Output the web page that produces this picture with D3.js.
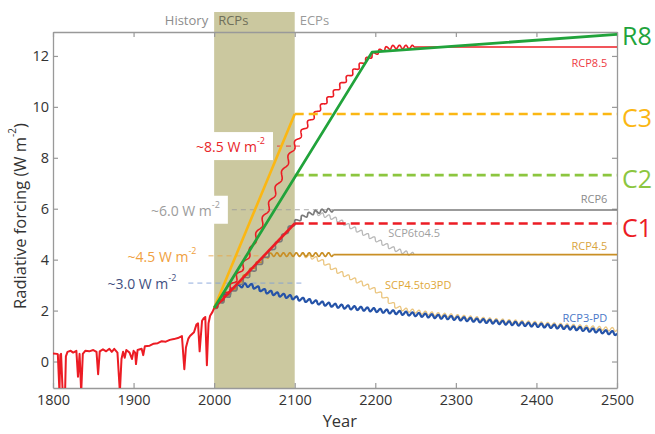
<!DOCTYPE html>
<html><head><meta charset="utf-8">
<script src="https://cdn.jsdelivr.net/npm/d3@7"></script>
<style>
body{margin:0;background:#fff}
svg{display:block}
text{font-family:"Open Sans","Noto Sans",sans-serif}
</style></head>
<body><svg id="c" width="655" height="434"></svg>
<script>
// ---------------- DATA ----------------
const xTicks = [1800, 1900, 2000, 2100, 2200, 2300, 2400, 2500];
const yTicks = [0, 2, 4, 6, 8, 10, 12];
const periodLabels = ["History", "RCPs", "ECPs"];
const periodBounds = [2000, 2100];

const histYears = [1800,1805,1806,1808,1809,1810,1812,1815,1816,1818,1822,1825,1829,1831,1833,1835,1837,1840,1845,1850,1854,1856,1858,1862,1866,1870,1873,1876,1880,1883,1885,1887,1889,1891,1895,1898,1900,1902,1903,1905,1910,1912,1914,1920,1925,1930,1935,1940,1945,1950,1955,1960,1963,1965,1968,1970,1975,1978,1980,1982,1985,1987,1989,1991,1993,1995,1998,2000];
const histValues = [0.32,0.3,0.28,-1.2,0.25,0.3,-1.2,-1.2,0.2,0.38,0.42,0.35,0.42,-0.6,0.3,-1.2,0.3,0.42,0.4,0.45,0.38,-0.5,0.4,0.48,0.4,0.5,0.38,0.5,0.35,-1.2,0.1,0.38,0.15,0.45,0.35,0.1,0.42,0.35,-0.1,0.45,0.5,0.25,0.6,0.62,0.7,0.72,0.8,0.78,0.85,0.88,0.92,1.0,-0.3,0.55,0.9,1.0,1.15,1.45,1.5,0.4,1.6,1.7,1.75,-0.15,1.5,1.8,1.95,2.1];

// wavy pathway series (RCP / SCP)
const rcp85Years  = [2000,2020,2040,2060,2080,2100,2125,2150,2175,2200,2225,2248,2500];
const rcp85Values = [2.1,2.9,4.0,5.5,7.0,8.5,9.7,10.6,11.45,12.1,12.35,12.35,12.35];
const rcp6Years   = [2000,2020,2040,2060,2080,2100,2124,2148,2500];
const rcp6Values  = [2.1,2.65,3.3,3.95,4.7,5.45,5.85,5.95,5.95];
const scp6to45Years  = [2124,2150,2175,2200,2225,2248];
const scp6to45Values = [5.85,5.6,5.2,4.8,4.4,4.2];
const rcp45Years  = [2000,2020,2040,2060,2072,2100,2148,2500];
const rcp45Values = [2.1,2.7,3.4,4.0,4.2,4.2,4.2,4.2];
const scp45to3Years  = [2108,2130,2150,2175,2200,2230,2250,2300,2350,2400,2450,2500];
const scp45to3Values = [4.18,4.0,3.6,3.2,2.8,2.1,1.97,1.78,1.62,1.5,1.38,1.25];
const rcp3Years  = [2000,2015,2030,2040,2065,2100,2150,2200,2250,2300,2350,2400,2450,2500];
const rcp3Values = [2.1,2.6,2.95,3.0,2.75,2.5,2.2,2.02,1.85,1.7,1.55,1.43,1.3,1.1];

// ECP-style scenario lines
const r8Years  = [2000,2196,2500];
const r8Values = [2.1,12.15,12.85];
const c3Years  = [2000,2100,2500];
const c3Values = [2.1,9.72,9.72];
const c2Years  = [2100,2500];
const c2Values = [7.32,7.32];
const c1Years  = [2000,2100,2500];
const c1Values = [2.1,5.42,5.42];

// annotation levels (~x W m-2)
const annotTexts  = ["~8.5 W m", "~6.0 W m", "~4.5 W m", "~3.0 W m"];
const annotLevels = [8.46, 5.96, 4.15, 3.08];
const annotFrom   = [2078, 2022, 1993, 1968];
const annotTo     = [2110, 2148, 2063, 2113];

// ---------------- LAYOUT / STYLE ----------------
const W = 655, H = 434;
const L = 53, R = 617, T = 32, B = 388;
const svg = d3.select("#c");
const x = d3.scaleLinear().domain([1800, 2500]).range([L, R]);
const y = d3.scaleLinear().domain([-1.04, 12.94]).range([B, T]);

const WAVE_AMP = 1.8, WAVE_PERIOD = 8;

svg.append("defs").append("clipPath").attr("id", "clip")
  .append("rect").attr("x", L).attr("y", T).attr("width", R - L).attr("height", B - T);

// shaded RCP period
svg.append("rect")
  .attr("x", x(periodBounds[0])).attr("y", 12)
  .attr("width", x(periodBounds[1]) - x(periodBounds[0])).attr("height", B - 12)
  .attr("fill", "#cbc89f");

// period labels
const plStyle = [
  {x: x(periodBounds[0]) - 6, anchor: "end", fill: "#8c8c8c"},
  {x: x(periodBounds[0]) + 4, anchor: "start", fill: "#6f6f5a"},
  {x: x(periodBounds[1]) + 5, anchor: "start", fill: "#9a9a9a"}
];
periodLabels.forEach((t, i) => {
  svg.append("text").attr("x", plStyle[i].x).attr("y", 25)
    .attr("text-anchor", plStyle[i].anchor).attr("font-size", 13)
    .attr("fill", plStyle[i].fill).text(t);
});

// annotation white boxes + labels + dashed lines
const annotColors = ["#e8262a", "#9c9c9c", "#f0a040", "#3f4f80"];
const annotLineColors = ["#e8262a", "#9c9c9c", "#e9a84a", "#7f9fd8"];
const annotG = svg.append("g");
annotTexts.forEach((t, i) => {
  const yy = y(annotLevels[i]);
  const xEnd = x(annotFrom[i]) - 12;
  const txt = annotG.append("text").attr("x", xEnd).attr("y", yy)
    .attr("text-anchor", "end").attr("dominant-baseline", "central")
    .attr("font-size", 14).attr("fill", annotColors[i]);
  txt.append("tspan").text(t);
  txt.append("tspan").attr("font-size", 9).attr("dy", -6).text("-2");
  const bb = txt.node().getBBox();
  annotG.insert("rect", "text").attr("x", bb.x - 8).attr("y", yy - 14)
    .attr("width", bb.width + 16).attr("height", 28).attr("fill", "#fff");
  svg.append("line").attr("x1", x(annotFrom[i])).attr("x2", x(annotTo[i]))
    .attr("y1", yy).attr("y2", yy)
    .attr("stroke", annotLineColors[i]).attr("stroke-width", 1).attr("stroke-dasharray", "5,4")
    .attr("opacity", 0.85);
});
annotG.raise();

// axes (inward ticks, frame)
const axisColor = "#999";
function styleAxis(g) {
  g.select(".domain").attr("stroke", axisColor).attr("stroke-width", 1.3);
  g.selectAll(".tick line").attr("stroke", axisColor).attr("stroke-width", 1.2);
  g.selectAll(".tick text").attr("fill", "#333").attr("font-size", 14.5)
    .attr("font-family", "'Open Sans','Noto Sans',sans-serif");
}
svg.append("g").attr("transform", `translate(0,${B})`)
  .call(d3.axisBottom(x).tickValues(xTicks).tickSizeInner(-5).tickSizeOuter(0).tickPadding(7).tickFormat(d3.format("d")))
  .call(styleAxis);
svg.append("g").attr("transform", `translate(0,${T})`)
  .call(d3.axisTop(x).tickValues(xTicks).tickSizeInner(-5).tickSizeOuter(0).tickFormat(""))
  .call(styleAxis);
svg.append("g").attr("transform", `translate(${L},0)`)
  .call(d3.axisLeft(y).tickValues(yTicks).tickSizeInner(-5).tickSizeOuter(0).tickPadding(4))
  .call(styleAxis);
svg.append("g").attr("transform", `translate(${R},0)`)
  .call(d3.axisRight(y).tickValues(yTicks).tickSizeInner(-5).tickSizeOuter(0).tickFormat(""))
  .call(styleAxis);

// axis titles
svg.append("text").attr("transform", `translate(19,${(T + B) / 2 + 6}) rotate(-90)`)
  .attr("text-anchor", "middle").attr("dominant-baseline", "central")
  .attr("font-size", 16.5).attr("fill", "#333")
  .call(t => { t.append("tspan").text("Radiative forcing (W m"); t.append("tspan").attr("font-size", 10).attr("dy", -7).text("-2"); t.append("tspan").attr("dy", 7).text(")"); });
svg.append("text").attr("x", x(2156)).attr("y", 427).attr("text-anchor", "middle")
  .attr("font-size", 16.5).attr("fill", "#333").text("Year");

// ---------------- LINES ----------------
const plot = svg.append("g").attr("clip-path", "url(#clip)");
const lineGen = (curve) => d3.line().x(d => x(d[0])).y(d => y(d[1])).curve(curve || d3.curveLinear);
const zip = (ys, vs) => ys.map((yr, i) => [yr, vs[i]]);

function wavyPath(pts) {
  const d = lineGen(d3.curveMonotoneX)(pts);
  const tmp = svg.append("path").attr("d", d).attr("fill", "none");
  const node = tmp.node();
  const len = node.getTotalLength();
  const step = 0.4;
  const samples = [];
  for (let s = 0; s <= len; s += step) { const p = node.getPointAtLength(s); samples.push([p.x, p.y]); }
  const last = node.getPointAtLength(len); samples.push([last.x, last.y]);
  tmp.remove();
  const out = samples.map((p, i) => {
    const a = samples[Math.max(0, i - 2)], b = samples[Math.min(samples.length - 1, i + 2)];
    let tx = b[0] - a[0], ty = b[1] - a[1];
    const n = Math.hypot(tx, ty) || 1; tx /= n; ty /= n;
    const off = WAVE_AMP * Math.sin(2 * Math.PI * x.invert(p[0]) / WAVE_PERIOD);
    return [p[0] - ty * off, p[1] + tx * off];
  });
  return d3.line()(out);
}

function drawPathway(ys, vs, style) {
  const pts = zip(ys, vs);
  const wav = pts.filter(d => d[0] <= style.wavyUntil);
  const flat = pts.filter(d => d[0] >= style.wavyUntil);
  plot.append("path").attr("d", wavyPath(wav)).attr("fill", "none")
    .attr("stroke", style.color).attr("stroke-width", style.width).attr("stroke-linejoin", "round");
  if (flat.length > 1) {
    plot.append("path").attr("d", lineGen()(flat)).attr("fill", "none")
      .attr("stroke", style.color).attr("stroke-width", style.width);
  }
}

drawPathway(scp45to3Years, scp45to3Values, {color: "#ebc680", width: 1.3, wavyUntil: 2500});
drawPathway(scp6to45Years, scp6to45Values, {color: "#b8b8b8", width: 1.3, wavyUntil: 2500});
drawPathway(rcp3Years, rcp3Values, {color: "#2553a8", width: 2.2, wavyUntil: 2500});
drawPathway(rcp45Years, rcp45Values, {color: "#c98f25", width: 1.7, wavyUntil: 2148});
drawPathway(rcp6Years, rcp6Values, {color: "#7a7a7a", width: 1.7, wavyUntil: 2148});
drawPathway(rcp85Years, rcp85Values, {color: "#ec1c24", width: 1.6, wavyUntil: 2248});

// history
plot.append("path").attr("d", lineGen()(zip(histYears, histValues))).attr("fill", "none")
  .attr("stroke", "#ec1c24").attr("stroke-width", 2).attr("stroke-linejoin", "round");

// scenario lines: solid ramp then dashed plateau
function drawScenario(ys, vs, style) {
  const pts = zip(ys, vs);
  const ramp = pts.filter(d => d[0] <= style.dashFrom);
  const plateau = pts.filter(d => d[0] >= style.dashFrom);
  if (ramp.length > 1) plot.append("path").attr("d", lineGen()(ramp)).attr("fill", "none")
    .attr("stroke", style.color).attr("stroke-width", style.width).attr("stroke-linejoin", "round");
  if (plateau.length > 1) plot.append("path").attr("d", lineGen()(plateau)).attr("fill", "none")
    .attr("stroke", style.color).attr("stroke-width", style.width)
    .attr("stroke-dasharray", style.dashed ? "9,5" : null);
}
drawScenario(c2Years, c2Values, {color: "#8cc63f", width: 2.6, dashFrom: 2100, dashed: true});
drawScenario(c1Years, c1Values, {color: "#ec1c24", width: 2.6, dashFrom: 2100, dashed: true});
drawScenario(c3Years, c3Values, {color: "#fbb713", width: 2.6, dashFrom: 2100, dashed: true});
drawScenario(r8Years, r8Values, {color: "#21a33b", width: 2.8, dashFrom: 2500, dashed: false});

// ---------------- LABELS ----------------
const seriesLabels = [
  {t: "RCP8.5", yr: 2488, v: 11.73, a: "end", c: "#ee3a44"},
  {t: "RCP6", yr: 2488, v: 6.42, a: "end", c: "#8a8a8a"},
  {t: "SCP6to4.5", yr: 2216, v: 5.08, a: "start", c: "#a0a0a0"},
  {t: "RCP4.5", yr: 2488, v: 4.57, a: "end", c: "#d9a440"},
  {t: "SCP4.5to3PD", yr: 2212, v: 3.04, a: "start", c: "#e0a83a"},
  {t: "RCP3-PD", yr: 2488, v: 1.74, a: "end", c: "#4a78c8"}
];
seriesLabels.forEach(s => {
  svg.append("text").attr("x", x(s.yr)).attr("y", y(s.v)).attr("text-anchor", s.a)
    .attr("dominant-baseline", "central").attr("font-size", 11).attr("fill", s.c).text(s.t);
});

const bigLabels = [
  {t: "R8", v: r8Values[r8Values.length - 1], c: "#21a33b", dy: 1},
  {t: "C3", v: c3Values[c3Values.length - 1], c: "#fbb713", dy: 3},
  {t: "C2", v: c2Values[c2Values.length - 1], c: "#8cc63f", dy: 3},
  {t: "C1", v: c1Values[c1Values.length - 1], c: "#ec1c24", dy: 4}
];
bigLabels.forEach(s => {
  svg.append("text").attr("x", R + 5).attr("y", y(s.v) + s.dy).attr("dominant-baseline", "central")
    .attr("font-size", 25).attr("fill", s.c).text(s.t);
});
</script></body></html>
